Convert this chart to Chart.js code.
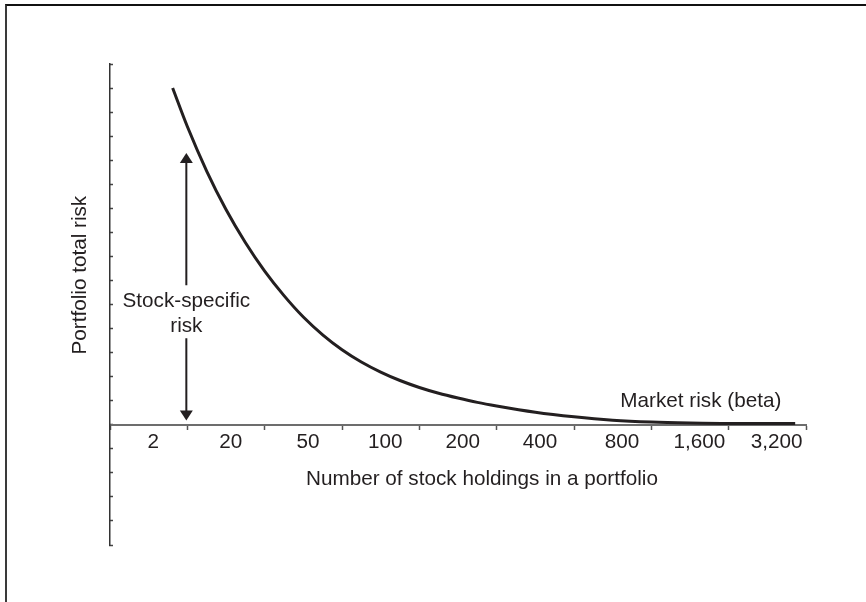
<!DOCTYPE html>
<html>
<head>
<meta charset="utf-8">
<script src="https://cdn.jsdelivr.net/npm/chart.js@4/dist/chart.umd.min.js"></script>
<style>
  html, body { margin: 0; padding: 0; background: #fff; overflow: hidden; }
  #wrap { position: relative; width: 866px; height: 602px; overflow: hidden; }
  #frame { position: absolute; left: 5px; top: 4px; width: 900px; height: 700px;
           border-top: 2px solid #111; border-left: 2px solid #3a3a3a; }
  canvas { position: absolute; left: 0; top: 0; }
</style>
</head>
<body>
<div id="wrap">
  <div id="frame"></div>
  <canvas id="c" width="866" height="602"></canvas>
</div>
<script>
// ---- data ----
const tickLabels = ['2', '20', '50', '100', '200', '400', '800', '1,600', '3,200'];
// curve position along the category axis (0 = left edge, 9 = right edge)
const curveX = [0.81, 1.0, 1.25, 1.5, 1.75, 2.0, 2.25, 2.5, 2.75, 3.0, 3.25, 3.5, 3.75, 4.0, 4.25, 4.5, 4.75, 5.0, 5.5, 6.0, 6.5, 7.0, 7.5, 8.0, 8.86];
const curveY = [14.0, 12.4, 10.55, 8.95, 7.58, 6.39, 5.37, 4.48, 3.74, 3.12, 2.61, 2.19, 1.84, 1.55, 1.31, 1.11, 0.93, 0.78, 0.52, 0.33, 0.19, 0.11, 0.07, 0.05, 0.05];
const xTitle = 'Number of stock holdings in a portfolio';
const yTitle = 'Portfolio total risk';
const arrowLabel = ['Stock-specific', 'risk'];
const marketLabel = 'Market risk (beta)';

const FONT = '"Liberation Sans", Arial, Helvetica, sans-serif';
const FS = 20.7;
const INK = '#231f20';

const annotations = {
  id: 'annotations',
  afterDraw(chart) {
    const ctx = chart.ctx;
    const xs = chart.scales.x, ys = chart.scales.y;
    ctx.save();
    ctx.fillStyle = INK;
    ctx.strokeStyle = INK;
    // arrow
    const ax = xs.getPixelForValue(1) - 1;
    const topTip = ys.getPixelForValue(11.3), botTip = ys.getPixelForValue(0.18);
    const gapTop = ys.getPixelForValue(5.8), gapBot = ys.getPixelForValue(3.6);
    const hh = 10, hw = 6.5;
    ctx.lineWidth = 2;
    ctx.beginPath();
    ctx.moveTo(ax, topTip + hh - 1); ctx.lineTo(ax, gapTop);
    ctx.moveTo(ax, gapBot); ctx.lineTo(ax, botTip - hh + 1);
    ctx.stroke();
    ctx.beginPath();
    ctx.moveTo(ax, topTip); ctx.lineTo(ax - hw, topTip + hh); ctx.lineTo(ax + hw, topTip + hh); ctx.closePath();
    ctx.fill();
    ctx.beginPath();
    ctx.moveTo(ax, botTip); ctx.lineTo(ax - hw, botTip - hh); ctx.lineTo(ax + hw, botTip - hh); ctx.closePath();
    ctx.fill();
    // texts
    ctx.font = FS + 'px ' + FONT;
    ctx.textAlign = 'center';
    ctx.textBaseline = 'alphabetic';
    ctx.fillText(arrowLabel[0], ax, ys.getPixelForValue(4.91));
    ctx.fillText(arrowLabel[1], ax, ys.getPixelForValue(3.85));
    ctx.fillText(marketLabel, xs.getPixelForValue(7.64), ys.getPixelForValue(0.72));
    ctx.fillText(xTitle, xs.getPixelForValue(4.81), ys.getPixelForValue(-2.51));
    // y title
    ctx.translate(86, ys.getPixelForValue(6.22));
    ctx.rotate(-Math.PI / 2);
    ctx.fillText(yTitle, 0, 0);
    ctx.restore();
  }
};

new Chart(document.getElementById('c'), {
  type: 'line',
  data: {
    datasets: [{
      data: curveX.map((x, i) => ({ x: x, y: curveY[i] })),
      borderColor: INK,
      borderWidth: 3,
      pointRadius: 0,
      fill: false,
      cubicInterpolationMode: 'monotone'
    }]
  },
  options: {
    responsive: false,
    animation: false,
    layout: { padding: { left: 110, right: 60, top: 64, bottom: 57 } },
    plugins: { legend: { display: false }, tooltip: { enabled: false }, title: { display: false } },
    scales: {
      x: {
        type: 'linear',
        position: { y: 0 },
        min: 0, max: 9,
        afterBuildTicks: (scale) => {
          const t = [];
          for (let i = 0; i <= tickLabels.length; i++) {
            t.push({ value: i });
            if (i < tickLabels.length) t.push({ value: i + 0.5 + (i >= 6 ? 0.12 : 0.06) });
          }
          scale.ticks = t;
        },
        ticks: {
          autoSkip: false,
          maxRotation: 0,
          padding: 1,
          color: INK,
          font: { family: FONT, size: FS },
          callback: (v) => (Number.isInteger(v) ? '' : tickLabels[Math.floor(v)])
        },
        grid: {
          drawOnChartArea: false,
          drawTicks: true,
          tickLength: 4,
          tickWidth: 1.5,
          tickColor: (c) => (c.tick && Number.isInteger(c.tick.value) ? '#555' : 'rgba(0,0,0,0)')
        },
        border: { color: '#6d6d6d', width: 2 }
      },
      y: {
        type: 'linear',
        position: { x: 0 },
        min: -5, max: 15,
        ticks: { stepSize: 1, display: false },
        grid: { drawOnChartArea: false, drawTicks: true, tickLength: -4, tickWidth: 1.5, tickColor: '#444' },
        border: { color: '#333', width: 1.5 }
      }
    }
  },
  plugins: [annotations]
});
</script>
</body>
</html>
